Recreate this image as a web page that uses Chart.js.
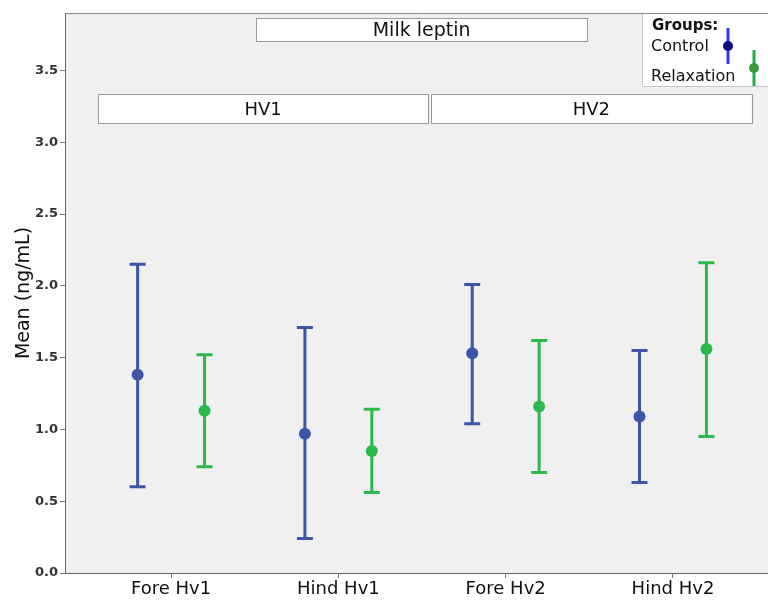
<!DOCTYPE html>
<html>
<head>
<meta charset="utf-8">
<script src="https://cdn.jsdelivr.net/npm/chart.js@4.4.1/dist/chart.umd.min.js"></script>
<style>
  html, body { margin: 0; padding: 0; background: #fff; }
</style>
</head>
<body>
<canvas id="myChart" width="768" height="600"></canvas>
<script>
// data
var categories = ['Fore Hv1', 'Hind Hv1', 'Fore Hv2', 'Hind Hv2'];
var controlMean = [1.38, 0.97, 1.53, 1.09];
var controlLow  = [0.60, 0.24, 1.04, 0.63];
var controlHigh = [2.15, 1.71, 2.01, 1.55];
var relaxMean = [1.13, 0.85, 1.16, 1.56];
var relaxLow  = [0.74, 0.56, 0.70, 0.95];
var relaxHigh = [1.52, 1.14, 1.62, 2.16];
var yTicks = [0, 0.5, 1, 1.5, 2, 2.5, 3, 3.5];
var panelNames = ['HV1', 'HV2'];
var groupNames = ['Control', 'Relaxation'];

var blue = '#3b56a8';
var green = '#2cb84a';
var shift = 0.2;
var font = 'DejaVu Sans';

function points(means, dx) {
    return means.map(function(m, i) { return { x: i + 1 + dx, y: m }; });
}

var errorBars = {
    id: 'errorBars',
    beforeDraw: function(chart) {
        var a = chart.chartArea, c = chart.ctx;
        c.save();
        c.fillStyle = '#f0f0f0';
        c.fillRect(a.left, a.top, a.right - a.left, a.bottom - a.top);
        c.strokeStyle = '#8a8a8a';
        c.lineWidth = 1;
        c.beginPath();
        c.moveTo(a.left, a.top + 0.5);
        c.lineTo(a.right, a.top + 0.5);
        c.stroke();
        c.restore();
    },
    beforeDatasetsDraw: function(chart) {
        var c = chart.ctx, xs = chart.scales.x, ys = chart.scales.y;
        var sets = [[controlLow, controlHigh, -shift, blue], [relaxLow, relaxHigh, shift, green]];
        c.save();
        c.lineWidth = 3;
        sets.forEach(function(s) {
            c.strokeStyle = s[3];
            s[0].forEach(function(lo, i) {
                var x = xs.getPixelForValue(i + 1 + s[2]);
                var y1 = ys.getPixelForValue(lo), y2 = ys.getPixelForValue(s[1][i]);
                c.beginPath();
                c.moveTo(x, y1); c.lineTo(x, y2);
                c.moveTo(x - 8, y1); c.lineTo(x + 8, y1);
                c.moveTo(x - 8, y2); c.lineTo(x + 8, y2);
                c.stroke();
            });
        });
        c.restore();
    },
    afterDraw: function(chart) {
        var c = chart.ctx, xs = chart.scales.x, ys = chart.scales.y;
        function box(x0, x1, y0, y1, text, size) {
            var l = xs.getPixelForValue(x0), r = xs.getPixelForValue(x1);
            var t = ys.getPixelForValue(y0), b = ys.getPixelForValue(y1);
            c.fillStyle = '#fff';
            c.fillRect(l, t, r - l, b - t);
            c.strokeStyle = '#9a9a9a';
            c.lineWidth = 1;
            c.strokeRect(Math.round(l) + 0.5, Math.round(t) + 0.5, Math.round(r - l), Math.round(b - t));
            c.fillStyle = '#111';
            c.font = size + 'px "' + font + '"';
            c.textAlign = 'center';
            c.textBaseline = 'middle';
            c.fillText(text, (l + r) / 2, (t + b) / 2 + 1);
        }
        c.save();
        box(1.508, 3.487, 3.862, 3.702, 'Milk leptin', 19);
        box(0.564, 2.536, 3.333, 3.131, panelNames[0], 18);
        box(2.554, 4.470, 3.333, 3.131, panelNames[1], 18);

        // legend
        c.fillStyle = '#fff';
        c.fillRect(643, 14, 125, 73);
        c.strokeStyle = '#c8c8c8';
        c.beginPath();
        c.moveTo(642.5, 14); c.lineTo(642.5, 86.5); c.lineTo(768, 86.5);
        c.stroke();
        c.fillStyle = '#111';
        c.textAlign = 'left';
        c.textBaseline = 'middle';
        c.font = 'bold 15px "' + font + '"';
        c.fillText('Groups:', 652, 26);
        c.font = '16px "' + font + '"';
        c.fillText(groupNames[0], 651, 47);
        c.fillText(groupNames[1], 651, 77);
        c.lineWidth = 3;
        c.strokeStyle = '#3434ee';
        c.beginPath(); c.moveTo(728, 28); c.lineTo(728, 64); c.stroke();
        c.fillStyle = '#0c0c80';
        c.beginPath(); c.arc(728, 46, 5, 0, Math.PI * 2); c.fill();
        c.strokeStyle = '#1cae4a';
        c.beginPath(); c.moveTo(754, 50); c.lineTo(754, 86); c.stroke();
        c.fillStyle = '#3a983a';
        c.beginPath(); c.arc(754, 68, 5, 0, Math.PI * 2); c.fill();
        c.restore();
    }
};

var ctx = document.getElementById('myChart').getContext('2d');

var myChart = new Chart(ctx, {
    type: 'scatter',
    data: {
        datasets: [
            {
                label: groupNames[0],
                data: points(controlMean, -shift),
                backgroundColor: blue,
                borderColor: blue,
                pointRadius: 6,
                pointBorderWidth: 0
            },
            {
                label: groupNames[1],
                data: points(relaxMean, shift),
                backgroundColor: green,
                borderColor: green,
                pointRadius: 6,
                pointBorderWidth: 0
            }
        ]
    },
    options: {
        responsive: false,
        animation: false,
        devicePixelRatio: 1,
        layout: { autoPadding: false, padding: { top: 13, right: 0, left: 0, bottom: 0 } },
        plugins: {
            legend: { display: false },
            tooltip: { enabled: false }
        },
        scales: {
            x: {
                type: 'linear',
                min: 0.366,
                max: 4.568,
                afterBuildTicks: function(s) {
                    s.ticks = categories.map(function(c, i) { return { value: i + 1 }; });
                },
                afterFit: function(s) {
                    s.height = 27;
                    s.paddingLeft = 0;
                    s.paddingRight = 0;
                },
                grid: { drawOnChartArea: false, drawTicks: true, tickLength: 5, color: '#777' },
                border: { display: true, color: '#666', width: 1 },
                ticks: {
                    padding: 1,
                    color: '#111',
                    font: { family: font, size: 18 },
                    callback: function(v) { return categories[Math.round(v) - 1]; }
                }
            },
            y: {
                min: 0,
                max: 3.9,
                afterBuildTicks: function(s) {
                    s.ticks = yTicks.map(function(v) { return { value: v }; });
                },
                afterFit: function(s) { s.width = 65; },
                grid: { drawOnChartArea: false, drawTicks: true, tickLength: 5, color: '#777' },
                border: { display: true, color: '#666', width: 1 },
                ticks: {
                    padding: 2,
                    color: '#333',
                    font: { family: font, size: 13, weight: 'bold' },
                    callback: function(v) { return v.toFixed(1); }
                },
                title: {
                    display: true,
                    text: 'Mean (ng/mL)',
                    color: '#111',
                    padding: { top: 13, bottom: 0 },
                    font: { family: font, size: 19 }
                }
            }
        }
    },
    plugins: [errorBars]
});
</script>
</body>
</html>
